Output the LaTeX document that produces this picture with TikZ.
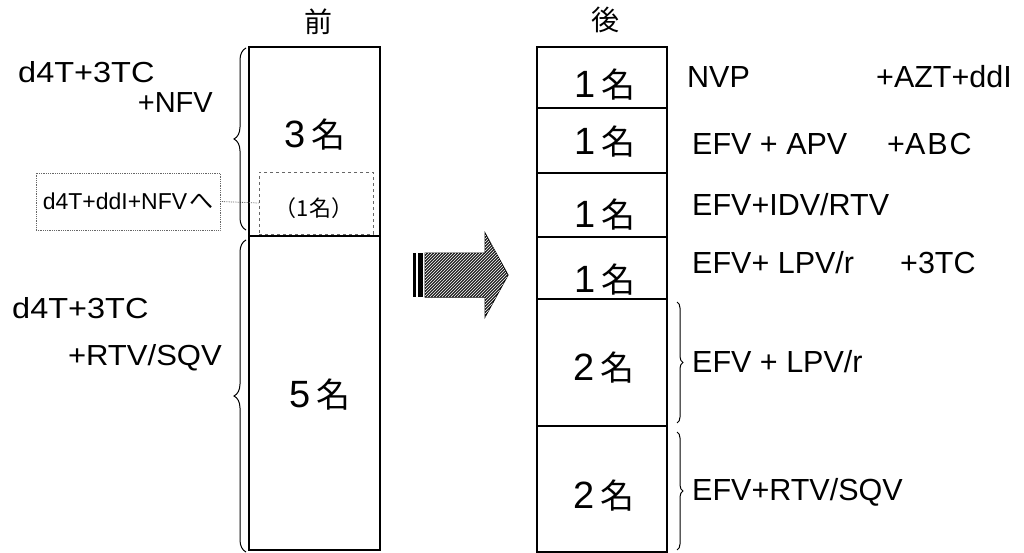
\documentclass[tikz,border=0pt]{standalone}
\usepackage{fontspec}
\setmainfont{Liberation Sans}
\newfontfamily\jp{Noto Sans CJK JP}
\newfontfamily\wide[FakeStretch=1.12]{Liberation Sans}
\newfontfamily\widea[FakeStretch=1.07]{Liberation Sans}
\usetikzlibrary{decorations.pathreplacing,patterns}
\newcommand{\mei}[1]{{\fontsize{38}{38}\selectfont #1}\kern5pt{\jp\fontsize{34}{34}\selectfont 名}}
\begin{document}
\begin{tikzpicture}[x=1pt,y=-1pt,
  box/.style={draw,line width=1.2pt,inner sep=0pt},
  lab/.style={font=\fontsize{29}{29}\selectfont,inner sep=0pt},
  rlab/.style={font=\fontsize{30.5}{30.5}\selectfont,inner sep=0pt},
  cnt/.style={inner sep=0pt,anchor=base},
  brc/.style={decorate,decoration={brace,amplitude=#1},line width=1pt},
  brc/.default=8
]
\useasboundingbox (0,0) rectangle (1024,553);

% before column
\node[box,minimum width=131pt,minimum height=189pt] (b1) at (314.5,141.5) {};
\node[box,minimum width=131pt,minimum height=314pt] (b2) at (314.5,393) {};
\node[draw=black!60,dashed,line width=0.6pt,minimum width=114pt,minimum height=62pt,inner sep=0pt] (inner) at (316,203) {};
\node[cnt] (n3) at (315,148) {\mei{3}};
\node[cnt] (n5) at (320,407) {\mei{5}};
\node[font=\jp\fontsize{22}{22}\selectfont,inner sep=0pt,anchor=base] (n1s) at (314,217) {（1名）};
\node[font=\jp\fontsize{28}{28}\selectfont,inner sep=0pt] (mae) at (318,22) {前};

% left labels
\node[lab,font=\wide\fontsize{29}{29}\selectfont,anchor=base west] (t1) at (18,83) {d4T+3TC};
\node[lab,anchor=base east] (t2) at (213,113) {+NFV};
\node[lab,font=\wide\fontsize{29}{29}\selectfont,anchor=base west] (t3) at (12,318) {d4T+3TC};
\node[lab,font=\widea\fontsize{29}{29}\selectfont,anchor=base east] (t4) at (222,365) {+RTV/SQV};
\node[draw=black!60,densely dotted,line width=0.8pt,minimum width=184pt,minimum height=57pt,inner sep=0pt,font=\fontsize{23}{23}\selectfont] (note) at (128,201.5) {d4T+ddI+NFV\kern2pt{\jp\fontsize{24}{24}\selectfont へ}};
\draw[densely dotted,black!60,line width=0.8pt] (note.east) -- (inner.west);

% left braces
\draw[brc=12] (246,230) -- (246,48);
\draw[brc=12] (246,552) -- (246,240);

% arrow
\fill (413,253) rectangle (416,297);
\fill (418,253) rectangle (423,297);
\path[fill=black!85,draw=black,line width=1pt] (425,253) -- (485,253) -- (485,233) -- (508,275) -- (485,317) -- (485,297) -- (425,297) -- cycle;
\path[pattern=north east lines,pattern color=white] (425,253) -- (485,253) -- (485,233) -- (508,275) -- (485,317) -- (485,297) -- (425,297) -- cycle;

% after column
\node[font=\jp\fontsize{28}{28}\selectfont,inner sep=0pt] (ato) at (605,20) {後};
\node[box,minimum width=130pt,minimum height=61pt] (r1) at (602,77.5) {};
\node[box,minimum width=130pt,minimum height=65pt] (r2) at (602,140.5) {};
\node[box,minimum width=130pt,minimum height=64pt] (r3) at (602,205) {};
\node[box,minimum width=130pt,minimum height=62pt] (r4) at (602,268) {};
\node[box,minimum width=130pt,minimum height=127pt] (r5) at (602,362.5) {};
\node[box,minimum width=130pt,minimum height=126pt] (r6) at (602,489) {};
\node[cnt] (c1) at (605,98) {\mei{1}};
\node[cnt] (c2) at (605,155) {\mei{1}};
\node[cnt] (c3) at (605,228) {\mei{1}};
\node[cnt] (c4) at (605,292) {\mei{1}};
\node[cnt] (c5) at (604,380) {\mei{2}};
\node[cnt] (c6) at (604,508) {\mei{2}};

% right labels
\node[rlab,anchor=base west] (l1) at (687,88) {NVP};
\node[rlab,anchor=base east] (l1b) at (1012,88) {+AZT+ddI};
\node[rlab,anchor=base west] (l2) at (692,155) {EFV + APV};
\node[rlab,anchor=base west] (l2b) at (887,155) {+A\kern2pt B\kern2pt C};
\node[rlab,anchor=base west] (l3) at (692,216) {EFV+IDV/RTV};
\node[rlab,anchor=base west] (l4) at (692,273) {EFV+ LPV/r};
\node[rlab,anchor=base west] (l4b) at (900,273) {+3TC};
\node[rlab,anchor=base west] (l5) at (692,372) {EFV + LPV/r};
\node[rlab,anchor=base west] (l6) at (692,500) {EFV+RTV/SQV};

% right braces
\draw[brc=6] (677,302) -- (677,423);
\draw[brc=6] (677,432) -- (677,550);
\end{tikzpicture}
\end{document}
